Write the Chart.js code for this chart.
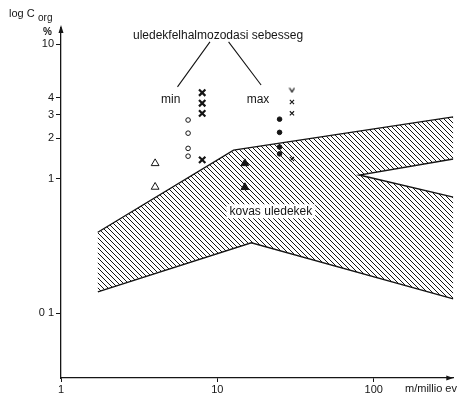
<!DOCTYPE html>
<html>
<head>
<meta charset="utf-8">
<script src="https://cdn.jsdelivr.net/npm/chart.js@4.4.0/dist/chart.umd.min.js"></script>
<style>
  html, body { margin: 0; padding: 0; background: #fff; }
  #wrap { width: 460px; height: 395px; }
</style>
</head>
<body>
<div id="wrap"><canvas id="corgChart" width="460" height="395"></canvas></div>
<script>
// Organic carbon vs. sedimentation rate, log-log
const xTicks = [1, 10, 100];
const xTickLabels = ['1', '10', '100'];
const yTicks = [0.1, 1, 2, 3, 4, 10];
const yTickLabels = ['0 1', '1', '2', '3', '4', '10'];

// siliceous sediment band: upper edge, notch on the right, lower edge
const bandUpper = [{x: 1.72, y: 0.40}, {x: 12.7, y: 1.63}, {x: 323, y: 2.88}];
const bandNotch = [{x: 323, y: 1.40}, {x: 81, y: 1.065}, {x: 323, y: 0.73}];
const bandLower = [{x: 1.72, y: 0.144}, {x: 16.5, y: 0.334}, {x: 323, y: 0.128}];

// measured points
const openTriangles = [{x: 4, y: 1.30}, {x: 4, y: 0.868}];
const openCircles = [{x: 6.5, y: 2.73}, {x: 6.5, y: 2.18}, {x: 6.5, y: 1.68}, {x: 6.5, y: 1.47}];
const boldCrosses = [{x: 8, y: 4.36}, {x: 8, y: 3.64}, {x: 8, y: 3.06}, {x: 8, y: 1.38}];
const filledTriangles = [{x: 15, y: 1.30}, {x: 15, y: 0.863}];
const filledDots = [{x: 25, y: 2.77}, {x: 25, y: 2.21}, {x: 25, y: 1.72}, {x: 25, y: 1.53}];
const smallCrosses = [{x: 30, y: 3.72}, {x: 30, y: 3.06}, {x: 30, y: 1.40}];
const vMarks = [{x: 30, y: 4.57}];

const ink = '#151515';
const font = '"Liberation Sans", Arial, sans-serif';

function hatchPattern() {
    const s = 5;
    const c = document.createElement('canvas');
    c.width = s; c.height = s;
    const g = c.getContext('2d');
    g.strokeStyle = ink;
    g.lineWidth = 1;
    g.beginPath();
    g.moveTo(0, 0); g.lineTo(s, s);
    g.moveTo(-1, s - 1); g.lineTo(1, s + 1);
    g.moveTo(s - 1, -1); g.lineTo(s + 1, 1);
    g.stroke();
    return g.createPattern(c, 'repeat');
}

function vGlyph() {
    const c = document.createElement('canvas');
    c.width = 7; c.height = 7;
    const g = c.getContext('2d');
    g.strokeStyle = ink;
    g.lineWidth = 1.3;
    g.beginPath();
    g.moveTo(1, 1.5); g.lineTo(3.5, 5.5); g.lineTo(6, 1.5);
    g.stroke();
    return c;
}

const bandShape = [...bandLower, ...bandNotch.slice().reverse(), ...bandUpper.slice().reverse()];

function edge(data) {
    return {
        type: 'line', data, borderColor: ink, borderWidth: 1.4,
        pointRadius: 0, fill: false, tension: 0
    };
}

function marks(data, style, radius, filled, width) {
    return {
        data, pointStyle: style, pointRadius: radius, pointHoverRadius: radius,
        borderColor: ink, backgroundColor: filled ? ink : '#fff',
        borderWidth: width
    };
}

// text and leader lines, placed in data coordinates
const notes = {
    id: 'notes',
    afterDatasetsDraw(chart) {
        const {ctx, chartArea, scales: {x, y}} = chart;
        const px = v => x.getPixelForValue(v);
        const py = v => y.getPixelForValue(v);
        ctx.save();
        ctx.fillStyle = ink;
        ctx.strokeStyle = ink;
        ctx.textBaseline = 'middle';
        ctx.textAlign = 'center';
        ctx.font = '12px ' + font;
        ctx.fillText('uledekfelhalmozodasi sebesseg', px(10.1), py(11.5));
        ctx.fillText('min', px(5.03), py(3.85));
        ctx.fillText('max', px(18.2), py(3.85));

        ctx.lineWidth = 1.1;
        ctx.beginPath();
        ctx.moveTo(px(8.97), py(10.4)); ctx.lineTo(px(5.56), py(4.81));
        ctx.moveTo(px(11.8), py(10.4)); ctx.lineTo(px(19.05), py(4.97));
        ctx.stroke();

        // label sits on a cleared patch of the hatching
        const label = 'kovas uledekek';
        const w = ctx.measureText(label).width;
        const lx = px(22), ly = py(0.573);
        ctx.fillStyle = '#fff';
        ctx.fillRect(lx - w / 2 - 3, ly - 7, w + 6, 14);
        ctx.fillStyle = ink;
        ctx.fillText(label, lx, ly);

        // axis arrows
        const l = chartArea.left, t = chartArea.top, r = chartArea.right, b = chartArea.bottom;
        ctx.beginPath();
        ctx.moveTo(l, t - 3); ctx.lineTo(l - 2.5, t + 5); ctx.lineTo(l + 2.5, t + 5); ctx.closePath();
        ctx.moveTo(r, b); ctx.lineTo(r - 7, b - 2.5); ctx.lineTo(r - 7, b + 2.5); ctx.closePath();
        ctx.fill();

        // axis titles
        ctx.textAlign = 'left';
        ctx.textBaseline = 'alphabetic';
        ctx.font = '11px ' + font;
        ctx.fillText('log C', 9, 17);
        ctx.font = '10px ' + font;
        ctx.fillText('org', 38, 21);
        ctx.font = 'bold 10px ' + font;
        ctx.textAlign = 'right';
        ctx.fillText('%', 52, 35);
        ctx.font = '11px ' + font;
        ctx.textAlign = 'left';
        ctx.textBaseline = 'middle';
        ctx.fillText('m/millio ev', 405, b + 11);
        ctx.restore();
    }
};

new Chart(document.getElementById('corgChart'), {
    type: 'scatter',
    data: {
        datasets: [
            {
                type: 'line', data: bandShape, borderWidth: 0, pointRadius: 0,
                fill: 'shape', backgroundColor: hatchPattern(), tension: 0
            },
            edge(bandUpper),
            edge(bandNotch),
            edge(bandLower),
            marks(openTriangles, 'triangle', 4.5, false, 1),
            marks(openCircles, 'circle', 2.3, false, 1),
            marks(boldCrosses, 'crossRot', 4.5, false, 2.2),
            marks(filledTriangles, 'triangle', 4.5, true, 1),
            marks(filledDots, 'circle', 2.3, true, 1),
            marks(smallCrosses, 'crossRot', 3, false, 1.1),
            marks(vMarks, vGlyph(), 3, false, 1)
        ]
    },
    options: {
        responsive: false,
        animation: false,
        devicePixelRatio: 1,
        layout: {padding: {top: 28, right: 0, left: 0, bottom: 0}},
        plugins: {legend: {display: false}, tooltip: {enabled: false}},
        scales: {
            x: {
                type: 'logarithmic',
                min: 1,
                max: 323,
                afterFit(scale) { scale.height = 17; },
                afterBuildTicks(scale) { scale.ticks = xTicks.map(v => ({value: v})); },
                grid: {drawOnChartArea: false, color: ink, tickLength: 4, lineWidth: 1},
                border: {color: ink, width: 1.3},
                ticks: {
                    color: ink, font: {family: font, size: 11}, padding: 1,
                    maxRotation: 0, autoSkip: false,
                    callback: (v, i) => xTickLabels[i]
                }
            },
            y: {
                type: 'logarithmic',
                min: 0.033,
                max: 13.19,
                afterFit(scale) { scale.width = 61; },
                afterBuildTicks(scale) { scale.ticks = yTicks.map(v => ({value: v})); },
                grid: {drawOnChartArea: false, color: ink, tickLength: 5, lineWidth: 1},
                border: {color: ink, width: 1.3},
                ticks: {
                    color: ink, font: {family: font, size: 11}, padding: 2,
                    autoSkip: false,
                    callback: (v, i) => yTickLabels[i]
                }
            }
        }
    },
    plugins: [notes]
});
</script>
</body>
</html>
